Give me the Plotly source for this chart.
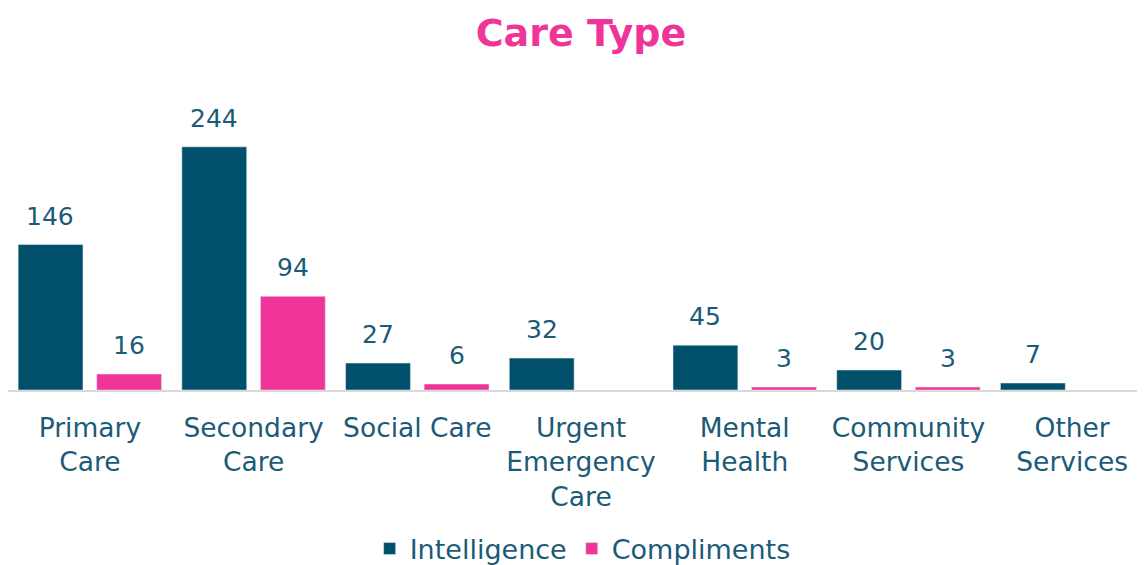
import plotly.graph_objects as go

categories = ["Primary<br>Care", "Secondary<br>Care", "Social Care", "Urgent<br>Emergency<br>Care",
              "Mental<br>Health", "Community<br>Services", "Other<br>Services"]
intelligence = [146, 244, 27, 32, 45, 20, 7]
compliments = [16, 94, 6, None, 3, 3, None]

TEAL = "#00506B"
PINK = "#F0359A"
TXT = "#1B5B77"
FONT = "DejaVu Sans"

fig = go.Figure()
fig.add_trace(go.Bar(name="Intelligence", x=categories, y=intelligence, marker_color=TEAL))
fig.add_trace(go.Bar(name="Compliments", x=categories, y=compliments, marker_color=PINK))

for vals, shift in ((intelligence, -39.5), (compliments, 39.5)):
    for c, v in zip(categories, vals):
        if v is None:
            continue
        fig.add_annotation(x=c, y=v, text=str(v), showarrow=False, xshift=shift, yshift=12,
                           yanchor="bottom", font=dict(family=FONT, size=25, color=TXT))

fig.update_layout(
    width=1145, height=565,
    margin=dict(l=0, r=8, t=103, b=183, autoexpand=False),
    paper_bgcolor="white", plot_bgcolor="white",
    barmode="group", bargap=0.04, bargroupgap=0.175,
    title=dict(text="<b>Care Type</b>", x=0.5004, xanchor="center", y=0.956, yanchor="middle",
               font=dict(family=FONT, size=38, color=PINK)),
    font=dict(family=FONT, size=27, color=TXT),
    showlegend=True,
    legend=dict(orientation="h", x=0.5054, xanchor="center", y=-0.5698, yanchor="middle",
                font=dict(family=FONT, size=27, color=TXT), itemwidth=30),
    xaxis=dict(range=[-0.5, 6.445], showline=True, linecolor="#D9D9D9", linewidth=2,
               ticks="", ticklabelstandoff=13, automargin=False,
               tickfont=dict(family=FONT, size=26.5, color=TXT), showgrid=False),
    yaxis=dict(range=[0, 280], visible=False, showgrid=False, zeroline=False),
)

fig.write_html("out.html")
